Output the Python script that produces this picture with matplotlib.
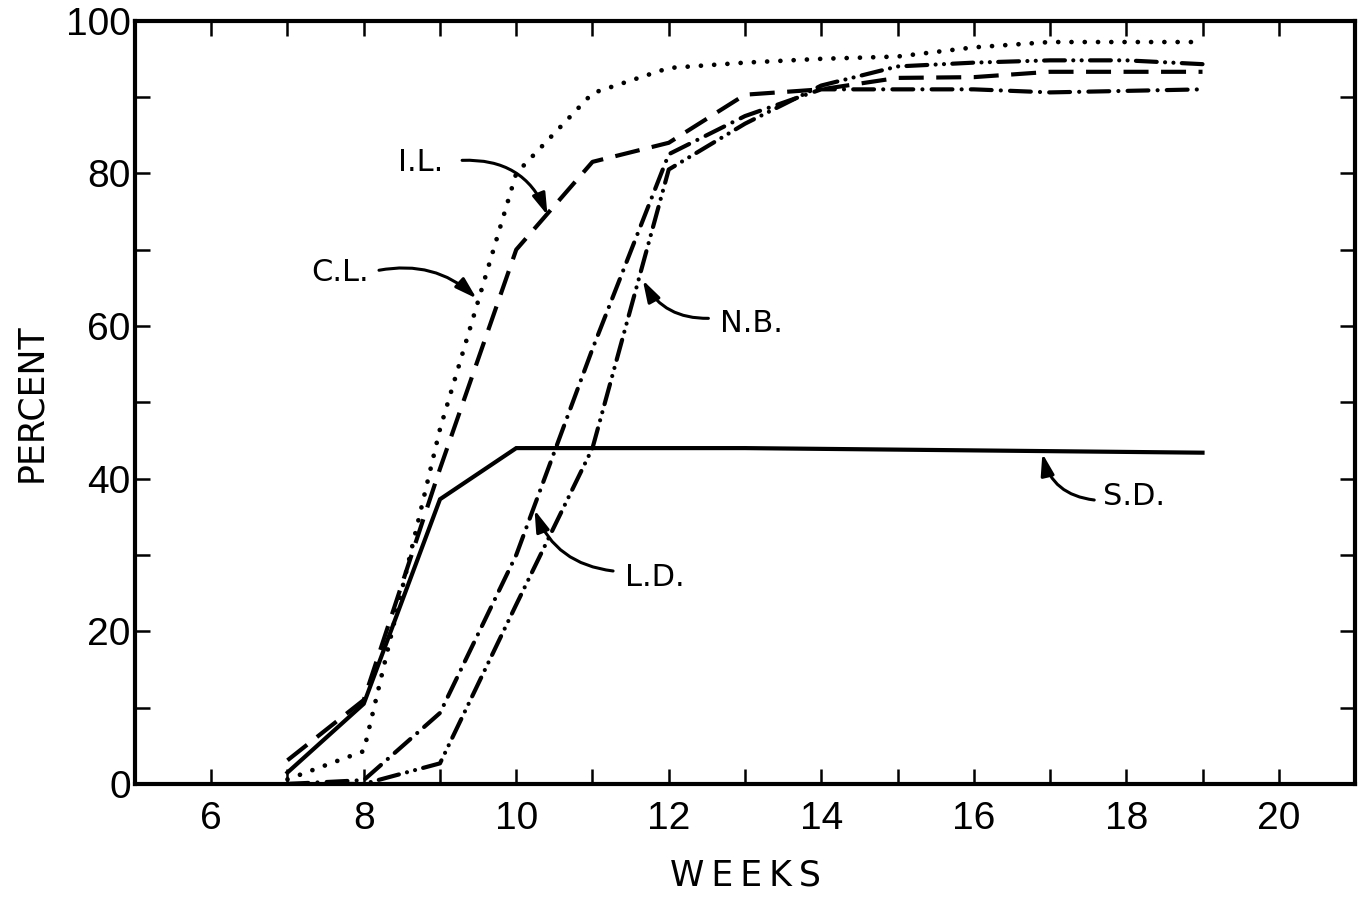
import matplotlib
matplotlib.use("Agg")
import matplotlib.pyplot as plt
from matplotlib.ticker import MultipleLocator

# data
weeks = [7, 8, 9, 10, 11, 12, 13, 14, 15, 16, 17, 18, 19]
sd = [1.5, 10.5, 37.3, 44.0, 44.0, 44.0, 44.0, 43.9, 43.8, 43.7, 43.6, 43.5, 43.4]
cl = [0.6, 4.3, 46.5, 80.0, 90.5, 93.8, 94.5, 95.0, 95.3, 96.5, 97.2, 97.2, 97.2]
il = [3.1, 11.0, 41.3, 70.0, 81.5, 84.0, 90.3, 91.0, 92.5, 92.6, 93.3, 93.3, 93.3]
nb = [0.0, 0.0, 2.7, 23.5, 44.0, 80.5, 86.5, 91.5, 94.0, 94.5, 94.8, 94.8, 94.3]
ld = [0.0, 0.5, 9.3, 30.0, 57.0, 82.5, 87.5, 91.0, 91.0, 91.0, 90.6, 90.8, 91.0]

# label text, text position, arrow tip
labels = ["I.L.", "C.L.", "N.B.", "L.D.", "S.D."]
text_xy = [(8.74, 81.4), (7.69, 67.0), (13.09, 60.3), (11.82, 27.1), (18.1, 37.6)]
tail_xy = [(9.29, 81.7), (8.2, 67.3), (12.52, 61.0), (11.27, 27.9), (17.58, 37.2)]
tip_xy = [(10.41, 74.5), (9.48, 63.6), (11.66, 66.0), (10.24, 35.9), (16.9, 43.3)]
bends = [-0.35, -0.25, -0.3, -0.3, -0.35]

tick_font = ["Liberation Sans", "DejaVu Sans"]

fig = plt.figure(figsize=(13.58, 8.98), dpi=100)
ax = fig.add_axes([0.0994, 0.127, 0.8984, 0.850])

lw = 3.0
ax.plot(weeks, sd, color="black", lw=lw, solid_joinstyle="miter")
ax.plot(weeks, cl, color="black", lw=3.4, linestyle=(0, (0.01, 2.8)),
        dash_capstyle="round")
ax.plot(weeks, il, color="black", lw=lw, linestyle=(0, (6.0, 3.0)))
ax.plot(weeks, ld, color="black", lw=lw, linestyle=(0, (5.0, 2.2, 0.01, 2.2)),
        dash_capstyle="round")
ax.plot(weeks, nb, color="black", lw=lw,
        linestyle=(0, (5.0, 2.0, 0.01, 2.0, 0.01, 2.0)), dash_capstyle="round")

for lab, t, s, p, r in zip(labels, text_xy, tail_xy, tip_xy, bends):
    ax.text(t[0], t[1], lab, fontsize=22, ha="center", va="center")
    ax.annotate("", xy=p, xytext=s,
                arrowprops=dict(arrowstyle="-|>,head_length=1.3,head_width=0.4",
                                color="black", lw=2.2,
                                connectionstyle=f"arc3,rad={r}",
                                shrinkA=0, shrinkB=0))

ax.set_xlim(5, 21)
ax.set_ylim(0, 100)
ax.set_xticks(range(6, 21, 2))
ax.xaxis.set_minor_locator(MultipleLocator(1))
ax.yaxis.set_major_locator(MultipleLocator(20))
ax.yaxis.set_minor_locator(MultipleLocator(10))

for sp in ax.spines.values():
    sp.set_linewidth(3.0)

ax.tick_params(which="both", direction="in", length=11, width=1.8,
               top=True, right=True)
ax.tick_params(axis="x", which="major", pad=12)
ax.tick_params(axis="y", which="major", pad=3)
for lab in ax.get_xticklabels() + ax.get_yticklabels():
    lab.set_fontfamily(tick_font)
    lab.set_fontsize(28)

ax.set_xlabel("W\u2009E\u2009E\u2009K\u2009S", fontsize=25, labelpad=16)
ax.set_ylabel("PERCENT", fontsize=25, labelpad=13)

fig.savefig("out.png", dpi=100)
